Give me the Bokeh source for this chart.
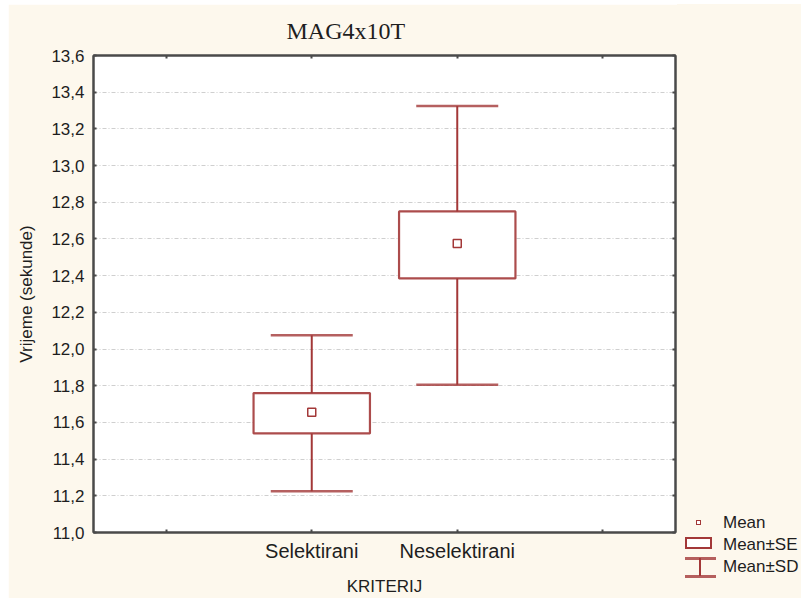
from bokeh.plotting import figure
from bokeh.layouts import row
from bokeh.models import (FactorRange, Range1d, FixedTicker, LinearAxis, CategoricalAxis,
                          ColumnDataSource, Whisker, TeeHead, Div)
from bokeh.embed import file_html
from bokeh.resources import INLINE

# ---- data ----
categories = ["Selektirani", "Neselektirani"]
axis_factors = [" ", "Selektirani", "Neselektirani", "  "]
mean = [11.655, 12.575]
se_low = [11.54, 12.385]
se_high = [11.76, 12.75]
sd_low = [11.225, 11.805]
sd_high = [12.075, 13.325]
y_ticks = [11.0, 11.2, 11.4, 11.6, 11.8, 12.0, 12.2, 12.4, 12.6, 12.8, 13.0, 13.2, 13.4, 13.6]
y_tick_labels = ["11,0", "11,2", "11,4", "11,6", "11,8", "12,0", "12,2", "12,4", "12,6",
                 "12,8", "13,0", "13,2", "13,4", "13,6"]
title_text = "MAG4x10T"
x_label = "KRITERIJ"
y_label = "Vrijeme (sekunde)"
legend_labels = ["Mean", "Mean\u00b1SE", "Mean\u00b1SD"]

# ---- style ----
RED = "#a33838"
RED_L = "rgba(163,56,56,0.8)"
CREAM = "#fdf8ed"
DARK = "#4a4a4a"
TXT = "#1e1e1e"
SANS = "Liberation Sans"

src = ColumnDataSource(dict(cat=categories, mean=mean, se_low=se_low, se_high=se_high,
                            sd_low=sd_low, sd_high=sd_high))

p = figure(x_range=FactorRange(*axis_factors), y_range=Range1d(y_ticks[0], y_ticks[-1]),
           width=669, height=594, output_backend="svg", toolbar_location=None,
           min_border_left=85, min_border_right=2, min_border_top=50, min_border_bottom=64,
           background_fill_color="white", border_fill_color=CREAM)

p.title.text = title_text
p.title.text_font = "Liberation Serif"
p.title.text_font_size = "24px"
p.title.text_font_style = "normal"
p.title.text_color = TXT
p.title.align = "left"
p.title.offset = 193
p.title.standoff = 23

p.outline_line_color = DARK
p.outline_line_width = 2

# grid
p.xgrid.grid_line_color = None
p.ygrid.ticker = FixedTicker(ticks=y_ticks)
p.ygrid.grid_line_color = "#cfcfcf"
p.ygrid.grid_line_dash = "4 2 1 2"
p.ygrid.grid_line_width = 1

# axes
yax = p.yaxis[0]
yax.ticker = FixedTicker(ticks=y_ticks)
yax.major_label_overrides = {t: l for t, l in zip(y_ticks, y_tick_labels)}
yax.axis_label = y_label
for ax in (yax, p.xaxis[0]):
    ax.axis_line_color = DARK
    ax.axis_line_width = 2
    ax.major_tick_in = 3
    ax.major_tick_out = 0
    ax.major_tick_line_color = DARK
    ax.major_tick_line_width = 2
    ax.minor_tick_line_color = None
    ax.major_label_text_font = SANS
    ax.major_label_text_color = TXT
    ax.axis_label_text_font = SANS
    ax.axis_label_text_font_style = "normal"
    ax.axis_label_text_color = TXT
    ax.axis_label_text_font_size = "17px"
yax.major_label_text_font_size = "17px"
yax.major_label_standoff = 9
yax.axis_label_standoff = 12
xax = p.xaxis[0]
xax.axis_label = x_label
xax.major_label_text_font_size = "20px"
xax.major_label_standoff = 7
xax.axis_label_standoff = 12

# tick-only axes on the top and right edges (no labels drawn)
top = CategoricalAxis(major_label_text_font_size="0px", major_label_text_color=None,
                      major_tick_in=3, major_tick_out=0,
                      major_tick_line_color=DARK, major_tick_line_width=2,
                      axis_line_color=DARK, axis_line_width=2, major_label_standoff=0)
p.add_layout(top, "above")
right = LinearAxis(ticker=FixedTicker(ticks=y_ticks), major_label_text_font_size="0px",
                   major_label_text_color=None,
                   major_tick_in=3, major_tick_out=0, minor_tick_line_color=None,
                   major_tick_line_color=DARK, major_tick_line_width=2,
                   axis_line_color=DARK, axis_line_width=2, major_label_standoff=0)
p.add_layout(right, "right")

# glyphs
stems = p.segment(x0="cat", x1="cat", y0="sd_low", y1="sd_high", source=src,
                  line_color=RED, line_width=2)
caps = Whisker(source=src, base="cat", upper="sd_high", lower="sd_low", dimension="height",
               line_alpha=0,
               upper_head=TeeHead(size=82, line_color=RED, line_width=2.5, line_alpha=0.8),
               lower_head=TeeHead(size=82, line_color=RED, line_width=2.5, line_alpha=0.8))
p.add_layout(caps)
boxes = p.vbar(x="cat", bottom="se_low", top="se_high", width=0.8, source=src,
               fill_color="white", line_color=RED, line_width=2.2, line_alpha=0.9)
means = p.scatter(x="cat", y="mean", source=src, marker="square", size=8,
                  fill_color="white", line_color=RED, line_width=1.5)

# ---- legend (key panel to the right of the plot frame, below its bottom edge) ----
def _abs(left, top, w, h, extra=""):
    return (f'<div style="position:absolute;left:{left}px;top:{top}px;width:{w}px;'
            f'height:{h}px;{extra}"></div>')

icons = (
    _abs(19, 516, 5, 5, f"border:1.5px solid {RED};background:white;")
    + _abs(8, 533, 27, 12, f"border:2px solid {RED};background:white;")
    + _abs(8, 553, 31, 3, f"background:{RED_L};")
    + _abs(22, 554, 2, 18, f"background:{RED};")
    + _abs(8, 571, 31, 3, f"background:{RED_L};")
)
labels = "".join(
    f'<div style="position:absolute;left:46px;top:{t}px;line-height:20px;'
    f'white-space:nowrap;">{lab}</div>'
    for t, lab in zip([509, 531, 553], legend_labels))
key_html = (f'<div style="position:relative;width:124px;height:594px;background:{CREAM};'
            f"font-family:'{SANS}';font-size:17px;color:{TXT};\">{icons}{labels}</div>")
key = Div(text=key_html, width=124, height=594, margin=0,
          styles={"background-color": CREAM})

layout = row(p, key, spacing=0, margin=(4, 0, 0, 8))
open("out.html", "w").write(file_html(layout, INLINE))
